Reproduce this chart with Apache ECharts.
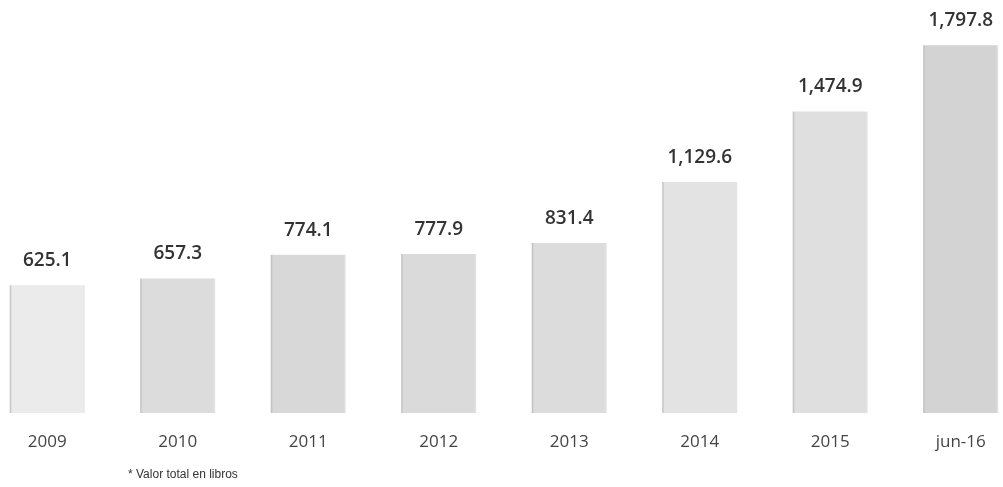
<!DOCTYPE html>
<html>
<head>
<meta charset="utf-8">
<script src="https://cdn.jsdelivr.net/npm/echarts@6/dist/echarts.min.js"></script>
<style>
html,body{margin:0;padding:0;background:#fff;overflow:hidden;width:1003px;height:487px;}
#chart{position:absolute;left:-18px;top:0;width:1044px;height:487px;}
</style>
</head>
<body>
<div id="chart"></div>
<script>
const categories = ['2009','2010','2011','2012','2013','2014','2015','jun-16'];
const values = [625.1, 657.3, 774.1, 777.9, 831.4, 1129.6, 1474.9, 1797.8];
const barColors = ['#ebebeb','#dcdcdc','#d8d8d8','#dadada','#dcdcdc','#e3e3e3','#dfdfdf','#d3d3d3'];
const footnote = '* Valor total en libros';

const chart = echarts.init(document.getElementById('chart'));
chart.setOption({
  animation: false,
  backgroundColor: '#ffffff',
  grid: {left: 0, right: 0, top: 4, bottom: 74, containLabel: false},
  xAxis: {
    type: 'category',
    data: categories,
    axisLine: {show: false},
    axisTick: {show: false},
    axisLabel: {
      color: '#444',
      fontFamily: 'Open Sans',
      fontSize: 17,
      margin: 21
    }
  },
  yAxis: {
    type: 'value',
    min: 0,
    max: 2000,
    show: false,
    splitLine: {show: false}
  },
  series: [{
    type: 'bar',
    barWidth: 75,
    data: values.map((v, i) => ({
      value: v,
      itemStyle: {
        color: {
          type: 'linear', x: 0, y: 0, x2: 1, y2: 0,
          colorStops: [
            {offset: 0, color: '#b8b8b8'},
            {offset: 0.03, color: barColors[i]},
            {offset: 0.97, color: barColors[i]},
            {offset: 1, color: '#e6e6e6'}
          ]
        }
      }
    })),
    label: {
      show: true,
      position: 'top',
      distance: 15,
      color: '#333',
      fontFamily: 'Open Sans',
      fontWeight: 600,
      fontSize: 19,
      formatter: p => p.value.toLocaleString('en-US', {minimumFractionDigits: 1, maximumFractionDigits: 1})
    }
  }],
  graphic: [{
    type: 'text',
    left: 146,
    top: 469,
    style: {
      text: footnote,
      fill: '#333',
      font: '12px "Liberation Sans", Arial, sans-serif'
    }
  }]
});
</script>
</body>
</html>
